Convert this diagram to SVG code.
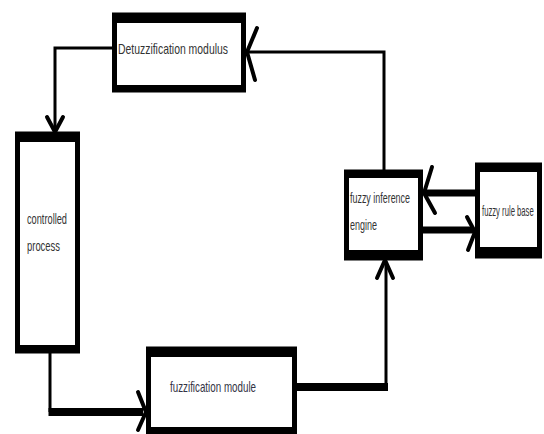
<svg xmlns="http://www.w3.org/2000/svg" width="544" height="434" viewBox="0 0 544 434">
<style>
.box{fill:#fff;stroke:#000;stroke-width:5}
.bar{fill:#000}
.lbl{font-family:"Liberation Sans",Arial,sans-serif;font-size:15px;fill:#333}
.thin{fill:none;stroke:#000;stroke-width:3}
.thick{fill:none;stroke:#000;stroke-width:8}
.head{fill:none;stroke:#000;stroke-width:4;stroke-linecap:round;stroke-linejoin:round}
</style>
<rect width="544" height="434" fill="#fff"/>
<g id="connectors">
<path class="thin" d="M384 172 V52 H248"/>
<path class="head" d="M257 28 L247 52 L255 80"/>
<path class="thin" d="M112 48 H55 V130"/>
<path class="head" d="M47 117 L55 132 L63 117"/>
<path class="thin" d="M50 353 V412"/>
<path class="thick" d="M48.5 412 H143"/>
<path class="head" d="M138 392 L146 412 L138 430"/>
<path class="thick" d="M297 387 H388"/>
<path class="thin" d="M386 391 V262"/>
<path class="head" d="M377 278 L385 260 L393 278"/>
<path class="thick" d="M475 193 H425" style="stroke-width:7"/>
<path class="head" d="M432 167 L424 193 L435 213"/>
<path class="thick" d="M423 230 H474" style="stroke-width:7"/>
<path class="head" d="M467 217 L475 232 L468 250"/>
</g>
<g id="defuzzification">
<rect class="box" x="114.5" y="15" width="129" height="75"/>
<rect class="bar" x="112" y="13" width="134" height="10"/>
<rect class="bar" x="112" y="85" width="134" height="7"/>
<text class="lbl" x="118" y="54" textLength="110" lengthAdjust="spacingAndGlyphs">Detuzzification modulus</text>
</g>
<g id="controlled-process">
<rect class="box" x="17.5" y="134" width="60" height="217"/>
<rect class="bar" x="15" y="132" width="65" height="10"/>
<rect class="bar" x="15" y="345" width="65" height="8"/>
<text class="lbl" x="27" y="224" textLength="40" lengthAdjust="spacingAndGlyphs">controlled</text>
<text class="lbl" x="27" y="251" textLength="33" lengthAdjust="spacingAndGlyphs">process</text>
</g>
<g id="fuzzification">
<rect class="box" x="148.5" y="349" width="146" height="82"/>
<rect class="bar" x="146" y="347" width="151" height="10"/>
<rect class="bar" x="146" y="427" width="151" height="7"/>
<text class="lbl" x="170" y="392" textLength="86" lengthAdjust="spacingAndGlyphs" style="fill:#334">fuzzification module</text>
</g>
<g id="inference-engine">
<rect class="box" x="346.5" y="172" width="74" height="86"/>
<rect class="bar" x="344" y="170" width="79" height="8"/>
<rect class="bar" x="344" y="250" width="79" height="10"/>
<text class="lbl" x="350" y="203" textLength="60" lengthAdjust="spacingAndGlyphs">fuzzy inference</text>
<text class="lbl" x="350" y="230" textLength="27" lengthAdjust="spacingAndGlyphs">engine</text>
</g>
<g id="rule-base">
<rect class="box" x="477.5" y="165" width="62" height="91"/>
<rect class="bar" x="475" y="163" width="67" height="9"/>
<rect class="bar" x="475" y="247" width="67" height="11"/>
<text class="lbl" transform="translate(482 216) scale(0.55 1)" style="font-size:14px">fuzzy rule base</text>
</g>
</svg>
